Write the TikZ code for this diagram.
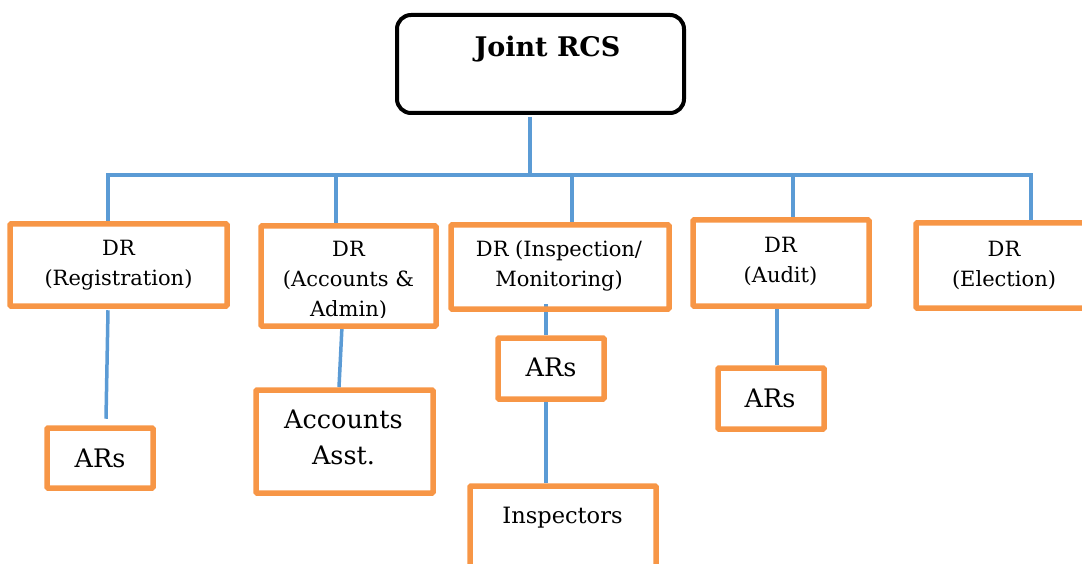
\documentclass[tikz,border=0pt]{standalone}
\usepackage{fontspec}
\setmainfont{DejaVu Serif}
\usetikzlibrary{backgrounds}
\definecolor{boxorange}{HTML}{F79646}
\definecolor{linkblue}{HTML}{5B9BD5}
\newcommand\stack[1]{\begin{tabular}[t]{@{}c@{}}#1\end{tabular}}
\begin{document}
\begin{tikzpicture}[x=1pt,y=-1pt,
  rootbox/.style={draw=black,line width=4pt,rounded corners=14pt,inner sep=0pt},
  obox/.style={draw=boxorange,line width=5.5pt,rounded corners=1pt,inner sep=0pt},
  link/.style={draw=linkblue,line width=3.5pt},
  drtext/.style={anchor=base,inner sep=0pt,font=\fontsize{21}{30}\selectfont},
  bigtext/.style={anchor=base,inner sep=0pt,font=\fontsize{25.5}{36}\selectfont},
]
\useasboundingbox (0,0) rectangle (1082,564);

% frames; their texts are placed separately below
\path
  (540.5,64)  node[rootbox,minimum width=287pt,minimum height=98pt] (root) {}
  (118.5,265) node[obox,minimum width=217pt,minimum height=82pt]  (reg) {}
  (348.5,276) node[obox,minimum width=175pt,minimum height=100pt] (acc) {}
  (560,267)   node[obox,minimum width=218pt,minimum height=84pt]  (insp) {}
  (781,263)   node[obox,minimum width=176pt,minimum height=86pt]  (aud) {}
  (1008,265.5) node[obox,minimum width=184pt,minimum height=85pt] (ele) {}
  (100,458)   node[obox,minimum width=106pt,minimum height=60pt]  (arreg) {}
  (344.5,441.5) node[obox,minimum width=177pt,minimum height=103pt] (accasst) {}
  (551,368.5) node[obox,minimum width=106pt,minimum height=61pt]  (arinsp) {}
  (563,543)   node[obox,minimum width=186pt,minimum height=114pt] (inspectors) {}
  (771,398.5) node[obox,minimum width=106pt,minimum height=61pt]  (araud) {};

% horizontal bus under the root
\coordinate (busroot) at (530,175);
\coordinate (busA) at (108,175);
\coordinate (busB) at (336,175);
\coordinate (busC) at (572,175);
\coordinate (busD) at (793,175);
\coordinate (busE) at (1031,175);

\begin{pgfonlayer}{background}
\draw[link] ([yshift=-2pt]root.south -| busroot) -- (busroot);
\draw[link] (reg.north -| busA) -- (busA) -- (busE) -- (ele.north -| busE);
\draw[link] (busB) -- (acc.north -| busB);
\draw[link] (busC) -- (insp.north -| busC);
\draw[link] (busD) -- (aud.north -| busD);

\draw[link] ([xshift=-10.5pt,yshift=-1.5pt]reg.south) -- ([xshift=6pt,yshift=6.5pt]arreg.north);
\draw[link] ([xshift=-6.5pt,yshift=2.5pt]acc.south) -- ([xshift=-5.5pt]accasst.north);
\draw[link] ([xshift=-14pt,yshift=7.5pt]insp.south) -- ([xshift=-5pt]arinsp.north);
\draw[link] ([xshift=-5pt]arinsp.south) -- ([xshift=-17pt]inspectors.north);
\draw[link] ([xshift=-4pt]aud.south) -- ([xshift=6pt]araud.north);
\end{pgfonlayer}

% texts
\node[anchor=base,inner sep=0pt,font=\fontsize{27}{32}\selectfont\bfseries] (rootlbl) at (547.5,57) {Joint RCS};
\node[drtext] (reglbl) at (118.5,256) {\stack{DR\\(Registration)}};
\begin{scope}
  \clip (261,226) rectangle (436,317);
  \node[drtext] (acclbl) at (348.5,257) {\stack{DR\\(Accounts \&\\Admin)}};
\end{scope}
\node[drtext] (insplbl) at (559,257) {\stack{DR (Inspection/\\Monitoring)}};
\node[drtext] (audlbl) at (780.5,253) {\stack{DR\\(Audit)}};
\node[drtext] (elelbl) at (1004,257) {\stack{DR\\(Election)}};
\node[bigtext] (arreglbl) at (100,467) {ARs};
\node[bigtext] (accasstlbl) at (343.5,428) {\stack{Accounts\\Asst.}};
\node[bigtext] (arinsplbl) at (551,376) {ARs};
\node[bigtext] (araudlbl) at (770,407) {ARs};
\node[anchor=base,inner sep=0pt,font=\fontsize{22.5}{28}\selectfont] (inspectorslbl) at (562.5,523) {Inspectors};
\end{tikzpicture}
\end{document}
